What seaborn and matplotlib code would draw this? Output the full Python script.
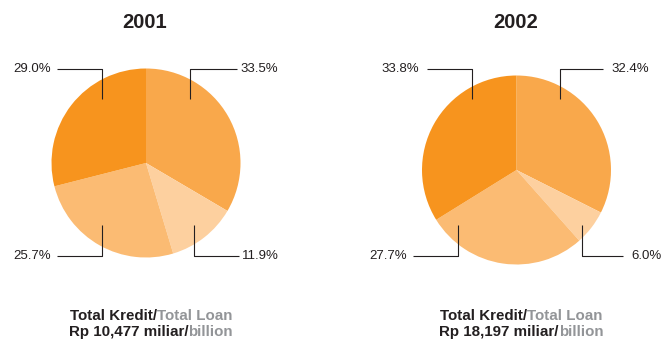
import matplotlib
matplotlib.use("Agg")
import matplotlib.pyplot as plt
import seaborn as sns
from matplotlib.offsetbox import TextArea, HPacker, VPacker, AnnotationBbox

sns.set_theme(style="white")
plt.rcParams["font.family"] = ["Liberation Sans", "DejaVu Sans"]

# Loan composition shares (%), clockwise from 12 o'clock
years = ["2001", "2002"]
shares_2001 = [33.5, 11.9, 25.7, 29.0]
shares_2002 = [32.4, 6.0, 27.7, 33.8]
totals = ["10,477", "18,197"]

slice_colors = sns.color_palette(["#F9A84B", "#FDD09F", "#FBBB73", "#F7941E"])
ink = "#231F20"
muted = "#939598"

W, H = 670, 345
fig = plt.figure(figsize=(W / 100, H / 100), dpi=100)
ax = fig.add_axes([0, 0, 1, 1])


def Y(y):
    """Convert a top-down pixel row into axis units."""
    return H - y


# Pie placement: (center x, center y, radius) in pixels
pies = [(146, 163, 94.5), (516.5, 170, 94.5)]

# Leader lines per slice: elbow x, tip y, row y, far end x, text x, alignment
leaders = [
    [(190, 99, 69, 237, 240, "left"),
     (194, 225, 256, 239, 242, "left"),
     (102, 225, 256, 57, 51, "right"),
     (102, 99, 69, 57, 51, "right")],
    [(560, 99, 69, 603, 611, "left"),
     (582, 225, 256, 623, 631, "left"),
     (458, 225, 256, 413, 407, "right"),
     (472, 99, 69, 427, 419, "right")],
]

for year, shares, total, (cx, cy, r), lead in zip(
        years, [shares_2001, shares_2002], totals, pies, leaders):
    ax.pie(shares, colors=slice_colors, startangle=90, counterclock=False,
           center=(cx, Y(cy)), radius=r, frame=True,
           wedgeprops=dict(linewidth=0))

    ax.text(cx - 1, Y(23), year, ha="center", va="center",
            fontsize=14.5, fontweight="bold", color=ink)

    for share, (ex, tip_y, row_y, far_x, tx, ha) in zip(shares, lead):
        ax.plot([ex, ex, far_x], [Y(tip_y), Y(row_y), Y(row_y)],
                color=ink, lw=0.8, solid_capstyle="butt", zorder=5)
        ax.text(tx, Y(row_y), f"{share:.1f}%", ha=ha, va="center",
                fontsize=9.5, color=ink)

    style_dark = dict(color=ink, fontsize=10.9, fontweight="bold")
    style_gray = dict(color=muted, fontsize=10.9, fontweight="bold")
    line1 = HPacker(children=[TextArea("Total Kredit/", textprops=style_dark),
                              TextArea("Total Loan", textprops=style_gray)],
                    sep=0, pad=0, align="baseline")
    line2 = HPacker(children=[TextArea(f"Rp {total} miliar/", textprops=style_dark),
                              TextArea("billion", textprops=style_gray)],
                    sep=0, pad=0, align="baseline")
    block = VPacker(children=[line1, line2], sep=2, pad=0, align="center")
    ab = AnnotationBbox(block, (cx + 5, Y(324)), box_alignment=(0.5, 0.5),
                        frameon=False, xycoords="data")
    ax.add_artist(ab)

ax.set_xlim(0, W)
ax.set_ylim(0, H)
ax.set_aspect("equal")
ax.axis("off")

fig.savefig("out.png", dpi=100, facecolor="white")
